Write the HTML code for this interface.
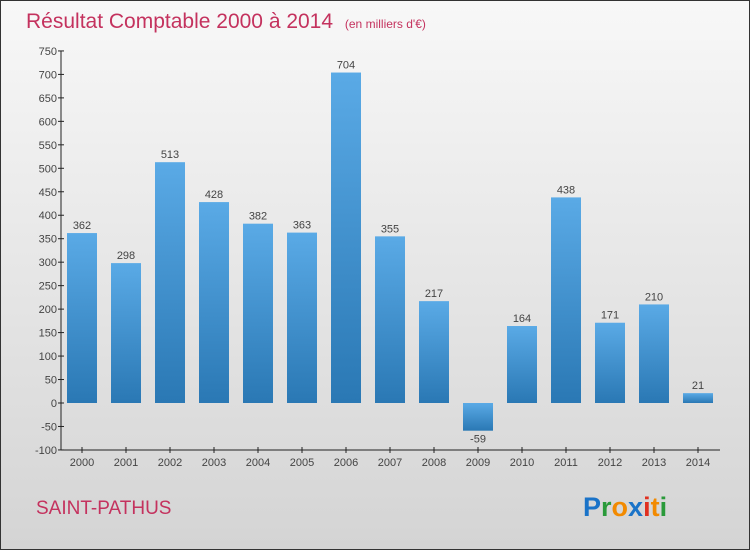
<!DOCTYPE html>
<html><head><meta charset="utf-8"><style>
body{margin:0;width:750px;height:550px;overflow:hidden}
svg{display:block;font-family:"Liberation Sans",sans-serif}
</style></head><body>
<svg width="750" height="550">
<defs>
<linearGradient id="bg" x1="0" y1="0" x2="0" y2="1"><stop offset="0" stop-color="#f8f8f8"/><stop offset="1" stop-color="#d4d4d4"/></linearGradient>
<linearGradient id="bar" x1="0" y1="0" x2="0" y2="1"><stop offset="0" stop-color="#5aaae6"/><stop offset="1" stop-color="#2a78b4"/></linearGradient>
</defs>
<rect x="0.5" y="0.5" width="749" height="549" fill="url(#bg)" stroke="#333"/>
<text x="26" y="28" font-size="21" fill="#c4325e">Résultat Comptable 2000 à 2014 <tspan font-size="12" dx="6">(en milliers d'€)</tspan></text>
<text x="36" y="514" font-size="19" fill="#c4325e">SAINT-PATHUS</text>
<text x="583" y="516" font-size="27" font-weight="bold"><tspan fill="#1a73c8">P</tspan><tspan fill="#2a9a3a">r</tspan><tspan fill="#f28a00">o</tspan><tspan fill="#1a73c8">x</tspan><tspan fill="#e03020">i</tspan><tspan fill="#f28a00">t</tspan><tspan fill="#2a9a3a">i</tspan></text>
<g id="g"></g>
</svg>
<script>
const years=["2000","2001","2002","2003","2004","2005","2006","2007","2008","2009","2010","2011","2012","2013","2014"];
const values=[362,298,513,428,382,363,704,355,217,-59,164,438,171,210,21];
const ticks=[-100,-50,0,50,100,150,200,250,300,350,400,450,500,550,600,650,700,750];
const NS="http://www.w3.org/2000/svg",g=document.getElementById('g');
const y=v=>403-v*399/850, x=i=>82+i*44;
function mk(t,a,txt){const e=document.createElementNS(NS,t);for(const k in a)e.setAttribute(k,a[k]);if(txt!=null)e.textContent=txt;g.appendChild(e);return e;}
let e=mk('line',{x1:61,y1:y(750),x2:61,y2:450,stroke:'#222'});

e=mk('line',{x1:61,y1:450,x2:720,y2:450,stroke:'#222'});

ticks.forEach(t=>{
 e=mk('line',{x1:58,x2:64,y1:y(t),y2:y(t),stroke:'#222'});
 
 e=mk('text',{x:57,y:y(t)+4,'font-size':11,'text-anchor':'end',fill:'#444'},t);
 
});
years.forEach((yr,i)=>{
 const v=values[i];
 e=mk('rect',{x:x(i)-15,y:Math.min(y(v),y(0)),width:30,height:Math.abs(y(v)-y(0)),fill:'url(#bar)'});
 
 e=mk('text',{x:x(i),y:v>=0?y(v)-4:y(v)+12,'font-size':11,'text-anchor':'middle',fill:'#444'},v);
 
 e=mk('line',{x1:x(i),x2:x(i),y1:447,y2:453,stroke:'#222'});
 
 e=mk('text',{x:x(i),y:466,'font-size':11,'text-anchor':'middle',fill:'#444'},yr);
 
});
</script>
</body></html>
